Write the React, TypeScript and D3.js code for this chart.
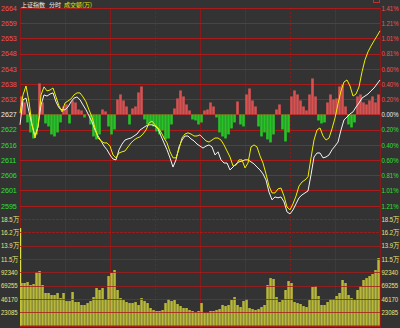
import React from 'react';
import * as d3 from 'd3';

// ---------- data ----------
const prevClose = 2627.0;
const pctStep = 0.2014; // percent per grid row
const priceTicks = ["2664","2659","2653","2648","2643","2638","2632","2627","2622","2616","2611","2606","2601","2595"];
const pctTicks = ["1.41%","1.21%","1.01%","0.81%","0.60%","0.40%","0.20%","0.00%","0.20%","0.40%","0.60%","0.81%","1.01%","1.21%"];
const volTickValues = [184680,161595,138510,115425,92340,69255,46170,23085];
const volTicks = ["18.5万","16.2万","13.9万","11.5万","92340","69255","46170","23085"];
const timeGridMinutes = [0,30,60,90,120,150,180,210,240];
const dashedMinutes = [90,180];

// white line: index, sampled every 2 minutes (0..240)
const indexPrices = [
  2623.4,2632.1,2632.7,2627.9,2623.4,2619.5,2622.7,2630.3,2633.8,2633.4,
  2634.1,2634.5,2631.4,2629.3,2628.6,2628.6,2629.6,2631.4,2632.7,2633.1,
  2632.1,2630.3,2628.6,2626.5,2624.4,2621.6,2619.5,2617.8,2616.0,2614.7,
  2612.9,2611.5,2611.2,2614.7,2616.7,2618.1,2618.5,2618.8,2619.5,2620.2,
  2621.6,2622.3,2623.0,2623.4,2623.4,2623.0,2622.0,2619.5,2617.1,2614.7,
  2611.9,2608.7,2611.2,2615.7,2618.1,2619.5,2619.5,2618.5,2617.8,2616.7,
  2616.0,2615.3,2616.0,2616.4,2615.7,2612.9,2614.0,2611.2,2610.1,2610.1,
  2607.7,2608.7,2609.8,2610.5,2610.8,2611.2,2611.2,2610.5,2609.8,2608.7,
  2607.7,2606.3,2604.2,2600.0,2597.3,2598.3,2598.0,2598.3,2596.6,2593.1,
  2592.4,2593.8,2595.9,2598.0,2599.0,2599.7,2600.4,2606.0,2612.2,2613.6,
  2613.6,2611.9,2612.2,2612.9,2614.7,2616.0,2617.4,2621.6,2625.1,2626.1,
  2627.2,2627.9,2629.6,2631.0,2632.7,2633.4,2634.1,2635.2,2636.2,2637.6,
  2639.0
];

// yellow line, sampled every 2 minutes (0..240)
const avgPrices = [
  2627.5,2633.8,2636.9,2631.4,2623.4,2618.8,2622.7,2633.8,2636.6,2635.2,
  2635.5,2636.2,2633.1,2630.0,2627.9,2631.0,2631.7,2632.4,2633.8,2634.5,
  2634.5,2633.1,2631.4,2628.6,2626.1,2622.3,2618.8,2617.8,2617.1,2617.1,
  2616.0,2612.9,2611.9,2613.6,2614.0,2614.3,2615.7,2617.1,2618.1,2618.8,
  2619.2,2620.2,2621.6,2624.0,2624.7,2623.4,2622.3,2620.9,2618.8,2617.1,
  2614.0,2611.9,2611.9,2615.0,2618.8,2620.2,2620.6,2620.2,2619.5,2619.5,
  2619.9,2618.8,2617.8,2617.4,2618.1,2618.8,2618.8,2618.1,2616.4,2614.3,
  2612.2,2609.1,2609.4,2611.2,2611.2,2608.4,2610.1,2615.7,2616.4,2615.7,
  2612.6,2610.1,2606.3,2602.1,2599.7,2599.7,2601.1,2601.4,2598.6,2594.8,
  2593.8,2595.9,2598.6,2602.1,2603.5,2604.2,2605.3,2611.9,2618.1,2621.6,
  2622.3,2619.5,2618.1,2618.8,2622.0,2625.8,2630.7,2635.2,2638.3,2639.0,
  2636.9,2633.4,2634.1,2636.6,2641.8,2646.0,2648.8,2650.8,2652.6,2654.3,
  2656.1
];

// buy/sell strength bars, one per 2 minutes
const strength = [
  18,12,-8,-18,-24,-20,31,12,-9,-12,
  -20,-22,-18,-8,8,10,-9,14,12,5,
  4,-3,0,-10,-22,-25,-20,5,3,-12,
  -20,-15,15,20,14,8,-10,6,8,22,
  28,-5,-10,-9,-12,-17,-20,-16,-25,-24,
  -10,6,16,24,18,10,4,-5,-6,-10,
  -8,4,5,12,8,-3,-18,-22,-24,-20,
  -14,-8,13,-10,-12,20,26,14,8,-12,
  -22,-18,-25,-28,-20,5,10,-15,-27,-18,
  18,24,20,14,8,4,20,36,18,-6,
  -9,-8,12,20,15,16,28,30,8,-10,
  -13,-8,18,20,12,10,14,18,12,20
];

const openVolume = 169000;
// turnover, one bar per 2 minutes
const volumes = [
  73800,73800,75500,70300,72000,92800,94600,70300,56500,56500,
  53000,53000,56500,47800,56500,42600,42600,58200,40900,40900,
  35700,35700,39100,42600,49500,65100,61700,65100,46100,85900,
  91100,96300,61700,47800,44300,40900,39100,39100,40900,35700,
  47800,42600,39100,30500,27000,25300,25300,27000,39100,46100,
  42600,44300,37400,33900,30500,30500,27000,25300,23600,25300,
  39100,21800,21800,25300,25300,27000,28700,35700,33900,35700,
  44300,49500,35700,32200,42600,46100,30500,28700,27000,28700,
  32200,35700,70300,82400,80700,49500,40900,44300,61700,77200,
  73800,40900,39100,37400,33900,32200,44300,66800,68600,51300,
  35700,35700,40900,46100,46100,51300,56500,79000,73800,53000,
  47800,44300,61700,68600,79000,82400,85900,89400,96300,117100
];

// ---------- layout ----------
const W = 400, H = 328;
const L = 20, R = 380;
const priceTop = 8, priceBottom = 205.7, volBottom = 325.6;

const GRID = '#a81c1c';
const VGRID = '#8a1a1a';
const RED = '#ff4c4c';
const GREEN = '#2ee02e';
const WHITE = '#eeeeee';
const VOLTXT = '#e6e67a';
const FONT = '"Liberation Sans", Arial, sans-serif';
const CJK = '"Noto Sans CJK SC", sans-serif';
const FS = 7.5;

export default function App() {
  const x = d3.scaleLinear().domain([0, 240]).range([L, R]);
  const pMin = prevClose * (1 - 6 * pctStep / 100);
  const pMax = prevClose * (1 + 7 * pctStep / 100);
  const yP = d3.scaleLinear().domain([pMin, pMax]).range([priceBottom, priceTop]);
  const yV = d3.scaleLinear().domain([0, 9 * 23085]).range([volBottom, priceBottom]);
  const zeroY = yP(prevClose);
  const sScale = d3.scaleLinear().domain([0, 1]).range([0, 1]);

  const priceTickY = priceTicks.map((_, i) => yP(prevClose * (1 + (7 - i) * pctStep / 100)));
  const line = d3.line<number>().x((_, i) => x(i * 2)).y(d => yP(d));

  const tickColor = (i: number) => (i < 7 ? RED : i === 7 ? WHITE : GREEN);

  const label = (key: string, tx: number, ty: number, sx: number, fill: string, t: string) => (
    <text key={key} transform={`translate(${tx},${ty + 2.8}) scale(${sx},1)`}
      fontFamily={FONT} fontSize={FS} fill={fill}>{t}</text>
  );

  return (
    <svg width={W} height={H} style={{ position: 'absolute', left: 0, top: 0, display: 'block' }}>
      <rect x={0} y={0} width={W} height={H} fill="#333333" />

      {/* vertical grid */}
      {timeGridMinutes.map(m => (
        <line key={'v' + m} x1={x(m) + 0.5} x2={x(m) + 0.5} y1={priceTop} y2={H}
          stroke={VGRID} strokeWidth={1}
          strokeDasharray={dashedMinutes.includes(m) ? '2,2' : undefined} />
      ))}

      {/* price grid */}
      {priceTickY.map((y, i) => (
        <line key={'h' + i} x1={L} x2={R} y1={Math.round(y) + 0.5} y2={Math.round(y) + 0.5}
          stroke={GRID} strokeWidth={1} />
      ))}

      {/* strength bars */}
      {strength.map((v, i) => {
        const x0 = x(i * 2);
        const h = sScale(Math.abs(v));
        return (
          <rect key={'s' + i} x={x0 + 0.2} width={2.6}
            y={v >= 0 ? zeroY - h : zeroY} height={h}
            fill={v >= 0 ? '#d85252' : '#26c426'} />
        );
      })}

      {/* volume bars */}
      <rect x={x(0)} width={1.2} y={yV(openVolume)} height={volBottom - yV(openVolume)} fill="#e0e040" />
      {volumes.map((v, i) => {
        const x0 = x(i * 2);
        return (
          <rect key={'vb' + i} x={x0 + 0.3} width={2.5} y={yV(v)} height={volBottom - yV(v)} fill="#b8b83a" />
        );
      })}

      {/* volume grid on top */}
      {volTickValues.map((v, i) => (
        <line key={'vg' + i} x1={L} x2={R} y1={Math.round(yV(v)) + 0.5} y2={Math.round(yV(v)) + 0.5}
          stroke={GRID} strokeWidth={1} strokeOpacity={0.8}
          strokeDasharray={i < 2 ? '3,1' : undefined} />
      ))}
      <line x1={L} x2={R} y1={Math.round(volBottom) + 0.5} y2={Math.round(volBottom) + 0.5} stroke={GRID} />

      {/* lines */}
      <path d={line(indexPrices) || ''} fill="none" stroke="#f4f4f4" strokeWidth={1} />
      <path d={line(avgPrices) || ''} fill="none" stroke="#f0f000" strokeWidth={1} />

      {/* left price labels */}
      {priceTicks.map((t, i) => label('lp' + i, 1, priceTickY[i], 0.95, tickColor(i), t))}
      {/* right pct labels */}
      {pctTicks.map((t, i) => label('rp' + i, 381.5, priceTickY[i], 0.8, tickColor(i), t))}
      {/* volume labels */}
      {volTicks.map((t, i) => label('vl' + i, 1, yV(volTickValues[i]), 0.8, VOLTXT, t))}
      {volTicks.map((t, i) => label('vr' + i, 381.5, yV(volTickValues[i]), 0.8, VOLTXT, t))}

      {/* header */}
      <text x={21} y={6.5} fontFamily={CJK} fontSize={6} fill="#f0f0f0">上证指数</text>
      <text x={49} y={6.5} fontFamily={CJK} fontSize={6} fill="#f0f0f0">分时</text>
      <text x={64} y={6.5} fontFamily={CJK} fontSize={6} fill="#e8e800">成交额(万)</text>
      <rect x={373.5} y={-2.5} width={6} height={5} fill="none" stroke="#c03030" />
    </svg>
  );
}
